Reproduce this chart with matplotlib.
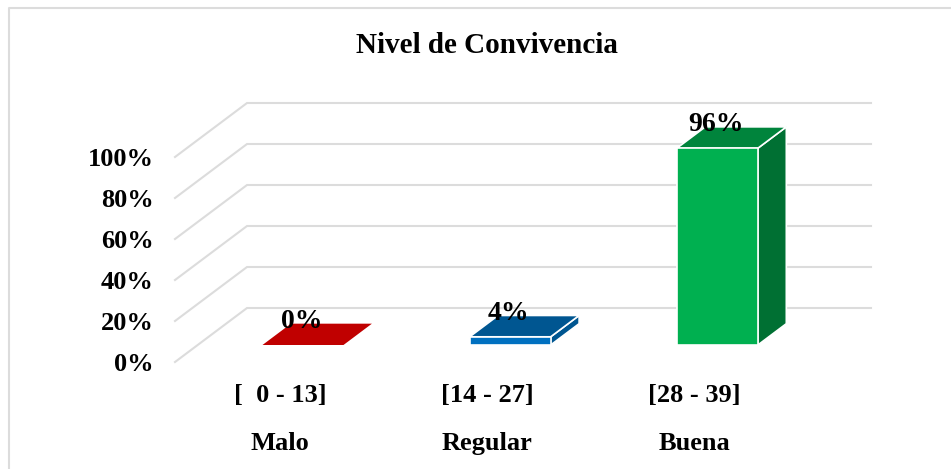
import numpy as np
import matplotlib
matplotlib.use("Agg")
import matplotlib.pyplot as plt

rangos = ["[  0 - 13]", "[14 - 27]", "[28 - 39]"]
niveles = ["Malo", "Regular", "Buena"]
porcentajes = [0, 4, 96]
y_ticks = [0, 20, 40, 60, 80, 100]
titulo = "Nivel de Convivencia"

col_front = ["#c00000", "#0070c0", "#00b050"]
col_top = ["#c00000", "#005691", "#00843c"]
col_side = ["#c00000", "#005691", "#007033"]
grid_col = "#dcdcdc"

W, H = 951, 469
# pixel scale of the chart
x_step = 207.2      # px per category
x0_px = 280.3       # first category on the front plane
y_scale = 2.05      # px per percent
y0_px = 345         # 0% at the front of the bars

# depth of the 3d box, in data units
depth_x = 72 / x_step
depth_y = 54 / y_scale
d_front = 0.315
d_back = 0.71
half_w = 40.5 / x_step


def proj(x, v, d):
    return x + d * depth_x, v + (d - d_front) * depth_y


plt.rcParams['font.family'] = ['Liberation Serif', 'DejaVu Serif']
plt.rcParams['font.weight'] = 'bold'

fig = plt.figure(figsize=(W / 100, H / 100), dpi=100)
ax = fig.add_axes([0, 0, 1, 1])
ax.set_xlim(-x0_px / x_step, (W - x0_px) / x_step)
ax.set_ylim((y0_px - H) / y_scale, y0_px / y_scale)
ax.axis("off")

# outer frame of the picture, only top and left are visible
ax.plot([(9 - x0_px) / x_step, (9 - x0_px) / x_step, (W - x0_px) / x_step],
        [(y0_px - H) / y_scale, (y0_px - 8) / y_scale, (y0_px - 8) / y_scale],
        color=grid_col, lw=1.5, zorder=1)

# grid: floor edge on the left and back wall
x_left = (175 - x0_px) / x_step
x_right = (871 - x0_px - 72) / x_step
for t in y_ticks:
    xa, ya = proj(x_left, t, 0)
    xb, yb = proj(x_left, t, 1)
    xc, yc = proj(x_right, t, 1)
    ax.plot([xa, xb, xc], [ya, yb, yc], color=grid_col, lw=1.5, zorder=1,
            solid_joinstyle="miter")
    ax.text(xa - 21.5 / x_step, ya, f"{t}%", ha="right", va="center_baseline", fontsize=19)

# bars
for i, v in enumerate(porcentajes):
    x1 = i - half_w
    x2 = i + half_w
    p1 = proj(x1, 0, d_front)
    p2 = proj(x2, 0, d_front)
    p3 = proj(x2, v, d_front)
    p4 = proj(x1, v, d_front)
    p5 = proj(x1, v, d_back)
    p6 = proj(x2, v, d_back)
    p7 = proj(x2, 0, d_back)
    lw = 0 if v == 0 else 1.2
    ax.fill(*zip(p2, p7, p6, p3), facecolor=col_side[i], edgecolor="white", lw=lw, zorder=2)
    ax.fill(*zip(p4, p3, p6, p5), facecolor=col_top[i], edgecolor="white", lw=lw, zorder=2)
    if v > 0:
        ax.fill(*zip(p1, p2, p3, p4), facecolor=col_front[i], edgecolor="white", lw=lw, zorder=3)
    xc = (p1[0] + p2[0]) / 2
    ax.text(xc - 1.5 / x_step, v + 26.5 / y_scale, f"{v}%", ha="center", va="center_baseline",
            fontsize=20, zorder=5)

# category labels
for i in range(3):
    ax.text(i, (y0_px - 393) / y_scale, rangos[i], ha="center", va="center_baseline", fontsize=19)
    ax.text(i, (y0_px - 441) / y_scale, niveles[i], ha="center", va="center_baseline", fontsize=19)

ax.text((486.5 - x0_px) / x_step, (y0_px - 43) / y_scale, titulo, ha="center",
        va="center_baseline", fontsize=21)

fig.savefig("out.png", dpi=100)
